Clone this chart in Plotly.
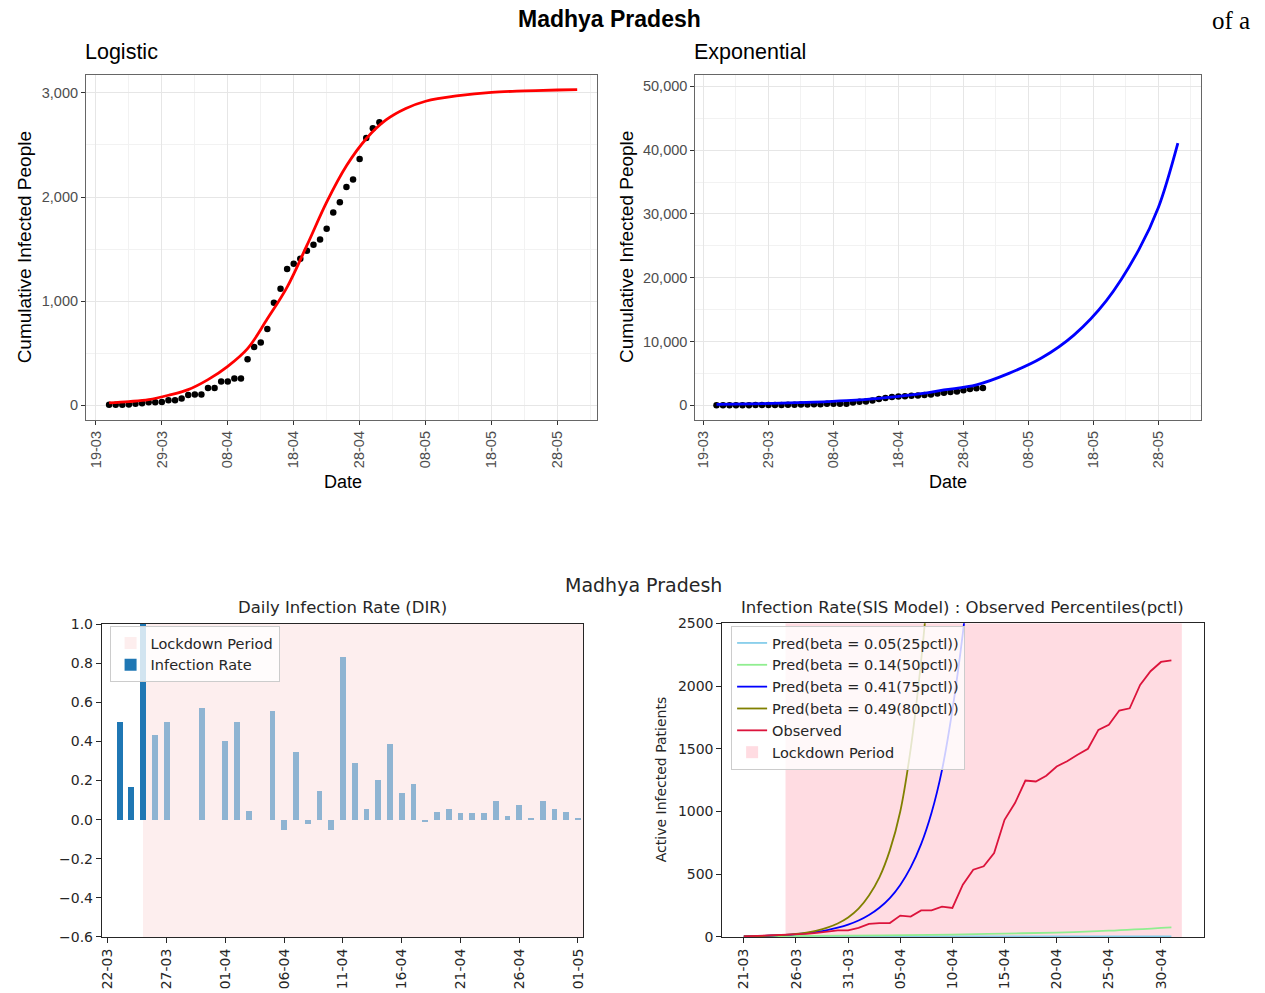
import pandas as pd
import plotly.graph_objects as go

W, H = 1265, 993

# ---------------- data ----------------
# observed cumulative cases, 21-03 .. 01-05
obs_dates = pd.date_range("2020-03-21", "2020-05-01").strftime("%Y-%m-%d").tolist()
cum_cases = [4, 4, 6, 7, 14, 20, 30, 30, 32, 47, 47, 66, 98, 104, 104, 165, 165, 229, 229, 256,
             256, 441, 560, 604, 732, 985, 1120, 1308, 1359, 1407, 1484, 1541, 1592, 1695, 1851, 1950,
             2097, 2168, 2366, 2568, 2660, 2718]

# logistic fit
logi_dates = ["2020-03-21", "2020-03-24", "2020-03-27", "2020-03-30", "2020-04-02", "2020-04-05",
              "2020-04-08", "2020-04-11", "2020-04-14", "2020-04-17", "2020-04-20", "2020-04-23",
              "2020-04-26", "2020-04-29", "2020-05-02", "2020-05-05", "2020-05-08", "2020-05-13",
              "2020-05-18", "2020-05-23", "2020-05-28", "2020-05-31"]
logi_fit = [22, 35, 54, 96, 150, 246, 374, 544, 830, 1135, 1535, 1951, 2300, 2560, 2740, 2850,
            2920, 2974, 3006, 3019, 3028, 3032]

# exponential fit
exp_dates = ["2020-03-21", "2020-03-26", "2020-03-31", "2020-04-05", "2020-04-10", "2020-04-15",
             "2020-04-20", "2020-04-25", "2020-04-30", "2020-05-05", "2020-05-10", "2020-05-15",
             "2020-05-20", "2020-05-25", "2020-05-28", "2020-05-31"]
exp_fit = [150, 220, 330, 490, 730, 1090, 1620, 2400, 3200, 5000, 7400, 11000, 16400, 24400,
           31000, 41100]

# daily infection rate, 23-03 .. 01-05
dir_dates = pd.date_range("2020-03-23", "2020-05-01").strftime("%Y-%m-%d").tolist()
dir_rate = [0.5, 0.167, 1.0, 0.43, 0.5, 0, 0, 0.57, 0, 0.40, 0.5, 0.046, 0, 0.557, -0.051, 0.347,
            -0.02, 0.148, -0.051, 0.83, 0.29, 0.053, 0.2, 0.387, 0.135, 0.18, -0.014, 0.037, 0.053,
            0.032, 0.032, 0.032, 0.097, 0.017, 0.077, 0.007, 0.097, 0.053, 0.037, 0.007]

lockdown_start = "2020-03-25"
lockdown_end = "2020-05-02"

# SIS model, 21-03 .. 01-05
sis_dates = pd.date_range("2020-03-21", "2020-05-01").strftime("%Y-%m-%d").tolist()
active_obs = [5, 8, 10, 13, 16, 21, 24, 32, 40, 53, 53, 72, 104, 111, 111, 170, 162, 212, 212, 242,
              231, 417, 536, 563, 669, 934, 1067, 1247, 1239, 1285, 1359, 1401, 1452, 1500, 1651,
              1691, 1805, 1823, 2009, 2118, 2192, 2205]
pred_80 = [4, 6, 8, 12, 17, 24, 35, 51, 74, 107, 155, 225, 330, 475, 690, 1000, 1500, 2200, 3100]
pred_75 = [5, 7, 9, 13, 17, 23, 31, 41, 55, 74, 98, 131, 175, 233, 310, 415, 555, 740, 990, 1330,
           1810, 2420, 3200]
pred_50_dates = ["2020-03-21", "2020-03-31", "2020-04-10", "2020-04-15", "2020-04-20", "2020-04-25",
                 "2020-05-01"]
pred_50 = [5, 11, 19, 27, 35, 50, 77]
pred_25_dates = ["2020-03-21", "2020-04-10", "2020-05-01"]
pred_25 = [5, 4, 4]

# the page comes out slightly squeezed vertically; these undo it
SY, OY = 0.985, 7.4


def px(x):
    return x / W


def py(y):
    return 1 - (y / SY - OY) / H


def drange(base, d0, d1):
    b = pd.Timestamp(base)
    return [str(b + pd.Timedelta(days=d0)), str(b + pd.Timedelta(days=d1))]


DAY = 86400000
GG = "Liberation Sans"
MPL = "DejaVu Sans"

fig = go.Figure()

# top left: logistic
fig.add_trace(go.Scatter(x=obs_dates, y=cum_cases, mode="markers", marker=dict(color="black", size=6.5),
                         xaxis="x", yaxis="y", showlegend=False))
fig.add_trace(go.Scatter(x=logi_dates, y=logi_fit, mode="lines", line=dict(color="red", width=2.8, shape="spline"),
                         xaxis="x", yaxis="y", showlegend=False))

# top right: exponential
fig.add_trace(go.Scatter(x=obs_dates, y=cum_cases, mode="markers", marker=dict(color="black", size=6.5),
                         xaxis="x2", yaxis="y2", showlegend=False))
fig.add_trace(go.Scatter(x=exp_dates, y=exp_fit, mode="lines", line=dict(color="blue", width=2.8, shape="spline"),
                         xaxis="x2", yaxis="y2", showlegend=False))

# bottom left: DIR bars (lockdown span is a shape below)
bar_colors = ["#1f77b4" if d <= lockdown_start else "#8fb4d2" for d in dir_dates]
fig.add_trace(go.Bar(x=dir_dates, y=dir_rate, width=0.5 * DAY, marker=dict(color=bar_colors, line_width=0),
                     name="Infection Rate", xaxis="x3", yaxis="y3", legend="legend", legendrank=2))

# bottom right: SIS lines
sis_lines = [
    ("Pred(beta = 0.05(25pctl))", pred_25_dates, pred_25, "#87ceeb"),
    ("Pred(beta = 0.14(50pctl))", pred_50_dates, pred_50, "#90ee90"),
    ("Pred(beta = 0.41(75pctl))", sis_dates[:len(pred_75)], pred_75, "#0000ff"),
    ("Pred(beta = 0.49(80pctl))", sis_dates[:len(pred_80)], pred_80, "#808000"),
    ("Observed", sis_dates, active_obs, "#dc143c"),
]
for i, (name, xs, ys, col) in enumerate(sis_lines):
    fig.add_trace(go.Scatter(x=xs, y=ys, mode="lines", name=name,
                             line=dict(color=col, width=1.8, shape="spline" if i < 4 else "linear"),
                             xaxis="x4", yaxis="y4", legend="legend2", legendrank=1000 + i))

# lockdown spans
fig.add_shape(type="rect", xref="x3", yref="y3", x0=lockdown_start, x1=lockdown_end, y0=-0.6, y1=1.0,
              fillcolor="#fdeeee", line_width=0, layer="below", showlegend=True, name="Lockdown Period",
              legend="legend", legendrank=1)
fig.add_shape(type="rect", xref="x4", yref="y4", x0=lockdown_start, x1=lockdown_end, y0=0, y1=2500,
              fillcolor="#ffdce2", line_width=0, layer="below", showlegend=True, name="Lockdown Period",
              legend="legend2", legendrank=1010)

gg_tick = dict(family=GG, size=14.5, color="#4d4d4d")
mpl_tick = dict(family=MPL, size=14, color="#262626")

gg_x = dict(type="date", tickformat="%d-%m", dtick=10 * DAY, tick0="2020-03-19", tickangle=-90,
            ticks="outside", ticklen=4, tickcolor="#333333", tickfont=gg_tick,
            showgrid=True, gridcolor="#e6e6e6", gridwidth=1,
            minor=dict(dtick=5 * DAY, tick0="2020-03-19", showgrid=True, gridcolor="#f2f2f2"),
            showline=True, mirror=True, linecolor="#666666", linewidth=1, zeroline=False)
gg_y = dict(ticks="outside", ticklen=4, tickcolor="#333333", tickfont=gg_tick, tickformat=",d",
            showgrid=True, gridcolor="#e6e6e6", gridwidth=1,
            showline=True, mirror=True, linecolor="#666666", linewidth=1, zeroline=False)
mpl_ax = dict(ticks="outside", ticklen=5, tickcolor="#262626", tickfont=mpl_tick, showgrid=False,
              showline=True, mirror=True, linecolor="#262626", linewidth=1.2, zeroline=False)

fig.update_layout(
    width=W, height=H, margin=dict(l=0, r=0, t=0, b=0),
    paper_bgcolor="white", plot_bgcolor="white",
    font=dict(family=MPL, color="#262626"),
    bargap=0,
    xaxis=dict(gg_x, domain=[px(83.3), px(596)], anchor="y", range=drange("2020-03-19", -1.51, 75.95)),
    yaxis=dict(gg_y, domain=[py(420), py(74)], anchor="x", range=[-143.9, 3175.6], dtick=1000, tick0=0,
               minor=dict(dtick=500, showgrid=True, gridcolor="#f2f2f2")),
    xaxis2=dict(gg_x, domain=[px(695), px(1202.3)], anchor="y2", range=drange("2020-03-19", -1.27, 76.49)),
    yaxis2=dict(gg_y, domain=[py(420), py(74)], anchor="x2", range=[-2349, 51832], dtick=10000, tick0=0,
                minor=dict(dtick=5000, showgrid=True, gridcolor="#f2f2f2")),
    xaxis3=dict(mpl_ax, type="date", domain=[px(99.3), px(582.8)], anchor="y3", tickformat="%d-%m",
                dtick=5 * DAY, tick0="2020-03-22", tickangle=-90, range=drange("2020-03-22", -0.5, 40.47)),
    yaxis3=dict(mpl_ax, domain=[py(937.3), py(624)], anchor="x3", range=[-0.6, 1.0],
                tickvals=[-0.6, -0.4, -0.2, 0, 0.2, 0.4, 0.6, 0.8, 1.0],
                ticktext=["\u22120.6", "\u22120.4", "\u22120.2", "0.0", "0.2", "0.4", "0.6", "0.8", "1.0"]),
    xaxis4=dict(mpl_ax, type="date", domain=[px(722.3), px(1205.5)], anchor="y4", tickformat="%d-%m",
                dtick=5 * DAY, tick0="2020-03-21", tickangle=-90, range=drange("2020-03-21", -2.05, 44.1)),
    yaxis4=dict(mpl_ax, domain=[py(937.3), py(623.3)], anchor="x4", range=[0, 2500], dtick=500, tick0=0),
    legend=dict(x=px(107), y=py(626), xanchor="left", yanchor="top", bgcolor="rgba(255,255,255,0.8)",
                bordercolor="#cccccc", borderwidth=1, font=dict(family=MPL, size=14.5, color="#262626")),
    legend2=dict(x=px(731), y=py(626), xanchor="left", yanchor="top", bgcolor="rgba(255,255,255,0.8)",
                 bordercolor="#cccccc", borderwidth=1, font=dict(family=MPL, size=14.5, color="#262626")),
)


def note(text, x, y, size, family, color="black", angle=0, xanchor="center"):
    fig.add_annotation(text=text, x=px(x), y=py(y), xref="paper", yref="paper", showarrow=False,
                       xanchor=xanchor, yanchor="middle", textangle=angle,
                       font=dict(family=family, size=size, color=color))


note("<b>Madhya Pradesh</b>", 609, 18, 23, GG)
note("of a", 1254, 20, 25, "Liberation Serif", xanchor="right")
note("Logistic", 80, 51, 21.5, GG, xanchor="left")
note("Exponential", 692, 51, 21.5, GG, xanchor="left")
note("Cumulative Infected People", 22, 247, 19, GG, angle=-90)
note("Cumulative Infected People", 626, 247, 19, GG, angle=-90)
note("Date", 341.7, 482, 18, GG)
note("Date", 949, 482, 18, GG)
note("Madhya Pradesh", 643, 585, 19, MPL, color="#262626")
note("Daily Infection Rate (DIR)", 340.5, 607, 16.5, MPL, color="#262626")
note("Infection Rate(SIS Model) : Observed Percentiles(pctl)", 963.7, 607, 16.5, MPL, color="#262626")
note("Active Infected Patients", 660, 780, 14, MPL, color="#262626", angle=-90)

# the figure is exactly the window size, so drop the page margin
fig.write_html("out.html", config={"displayModeBar": False},
               post_script="document.body.style.margin='0';document.body.style.overflow='hidden';")
